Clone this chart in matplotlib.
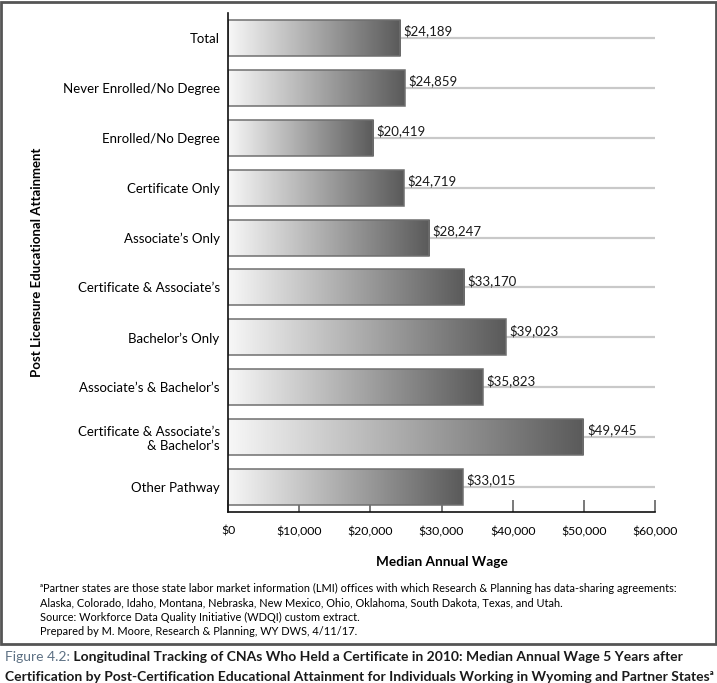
import matplotlib
matplotlib.use("Agg")

import matplotlib.pyplot as plt
import matplotlib.ticker as ticker
from matplotlib.colors import LinearSegmentedColormap
from matplotlib.patches import Rectangle
from matplotlib import font_manager
import numpy as np

categorias = [
    "Total",
    "Never Enrolled/No Degree",
    "Enrolled/No Degree",
    "Certificate Only",
    "Associate\u2019s Only",
    "Certificate & Associate\u2019s",
    "Bachelor\u2019s Only",
    "Associate\u2019s & Bachelor\u2019s",
    "Certificate & Associate\u2019s\n& Bachelor\u2019s",
    "Other Pathway",
]
salarios = [24189, 24859, 20419, 24719, 28247, 33170, 39023, 35823, 49945, 33015]
ticks_x = [0, 10000, 20000, 30000, 40000, 50000, 60000]

notas = [
    "\u1d43Partner states are those state labor market information (LMI) offices with which Research & Planning has data-sharing agreements:",
    "Alaska, Colorado, Idaho, Montana, Nebraska, New Mexico, Ohio, Oklahoma, South Dakota, Texas, and Utah.",
    "Source: Workforce Data Quality Initiative (WDQI) custom extract.",
    "Prepared by M. Moore, Research & Planning, WY DWS, 4/11/17.",
]
titulo_1 = "Longitudinal Tracking of CNAs Who Held a Certificate in 2010: Median Annual Wage 5 Years after"
titulo_2 = "Certification by Post-Certification Educational Attainment for Individuals Working in Wyoming and Partner States\u1d43"


def tem_fonte(nome):
    try:
        font_manager.findfont(nome, fallback_to_default=False)
        return True
    except Exception:
        return False


plt.rcParams["font.family"] = ["Lato", "DejaVu Sans"]
fonte_estreita = ["Liberation Sans Narrow", "DejaVu Sans"] if tem_fonte("Liberation Sans Narrow") else ["Lato", "DejaVu Sans"]

W, H = 717, 683
fig = plt.figure(figsize=(W / 100, H / 100), dpi=100)
ax = fig.add_axes([228 / W, 1 - 512 / H, (655 - 228) / W, (512 - 13) / H])

cmap = LinearSegmentedColormap.from_list("cinza", ["#f7f7f7", "#a9a9a9", "#5a5a5a"])
gradiente = np.linspace(0, 1, 256).reshape(1, -1)

y = np.arange(len(categorias))
altura = 0.72

ax.hlines(y, 0, 60000, color="#c9c9c9", lw=1.6, zorder=1)

for yi, v in zip(y, salarios):
    ax.imshow(gradiente, cmap=cmap, aspect="auto", interpolation="bicubic",
              extent=[0, v, yi + altura / 2, yi - altura / 2], zorder=2)
    ax.add_patch(Rectangle((0, yi - altura / 2), v, altura, facecolor="none",
                           edgecolor="#6f6f6f", lw=1.1, zorder=3))
    ax.text(v + 500, yi - 0.14, f"${v:,.0f}", va="center", ha="left",
            fontsize=9.5, color="#1a1a1a", zorder=4)

ax.set_xlim(0, 60000)
ax.set_ylim(len(categorias) - 0.5, -0.5)

ax.set_yticks(y)
ax.set_yticklabels(categorias, fontsize=9.5, ha="right", multialignment="right")
ax.tick_params(axis="y", length=0, pad=6)

ax.set_xticks(ticks_x)
ax.xaxis.set_major_formatter(ticker.FuncFormatter(lambda x, pos: f"${x:,.0f}"))
ax.tick_params(axis="x", direction="in", length=8.5, width=1.1, color="#555555",
               labelsize=8.8, pad=10)

for lado in ["top", "right"]:
    ax.spines[lado].set_visible(False)
for lado in ["left", "bottom"]:
    ax.spines[lado].set_color("#111111")
    ax.spines[lado].set_linewidth(1.2)
    ax.spines[lado].set_zorder(5)

ax.set_xlabel("Median Annual Wage", fontsize=9.8, fontweight="bold", labelpad=14)
fig.text(37 / W, 1 - 262 / H, "Post Licensure Educational Attainment", rotation=90,
         ha="center", va="center", fontsize=9.5, fontweight="bold")

for i, linha in enumerate(notas):
    fig.text(40 / W, 1 - (588 + i * 14.5) / H, linha, ha="left", va="center", fontsize=7.9)

fig.patches.append(Rectangle((1 / W, 1 - 644 / H), (W - 2) / W, 643 / H - 1 / H,
                             transform=fig.transFigure, facecolor="none",
                             edgecolor="#555555", lw=2))

t1 = fig.text(5 / W, 1 - 657 / H, "Figure 4.2:", ha="left", va="center",
              fontsize=10, color="#5d7184", family=fonte_estreita)
ax.annotate(" " + titulo_1, xy=(1, 0), xycoords=t1, va="bottom", ha="left",
            fontsize=10, fontweight="bold", color="#1a1a1a", family=fonte_estreita,
            annotation_clip=False)
fig.text(5 / W, 1 - 677 / H, titulo_2, ha="left", va="center", fontsize=10,
         fontweight="bold", color="#1a1a1a", family=fonte_estreita)

fig.savefig("out.png", dpi=100)
